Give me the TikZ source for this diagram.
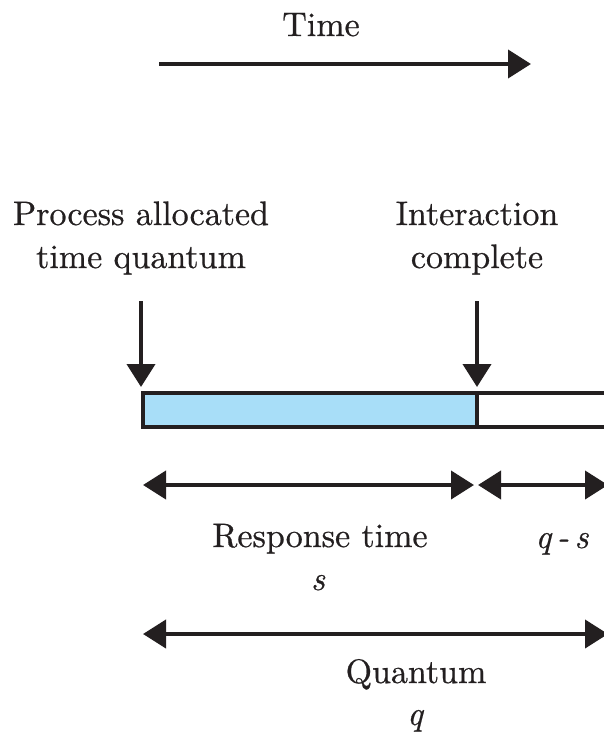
\documentclass[tikz,border=0pt]{standalone}
\usepackage{fontspec}
\setmainfont{lmroman10}[Extension=.otf, UprightFont=*-regular, ItalicFont=*-italic, BoldFont=*-bold, FakeBold=0.6]
\usetikzlibrary{arrows.meta}
\definecolor{boxblue}{HTML}{A8DEF8}
\definecolor{ink}{HTML}{231F20}
\tikzset{
  lbl/.style={anchor=base, inner sep=0pt, font=\fontsize{34}{40}\selectfont, text=ink},
  ilbl/.style={lbl, font=\fontsize{34}{40}\selectfont\itshape},
  arr/.style={line width=4pt, draw=ink, -{Triangle[length=23pt,width=28pt]}},
  darr/.style={line width=4pt, draw=ink, {Triangle[length=23pt,width=28pt]}-{Triangle[length=23pt,width=28pt]}},
  barbox/.style={line width=4pt, draw=ink}
}
\begin{document}
\begin{tikzpicture}[x=1pt,y=-1pt]
\clip (0,0) rectangle (604,736);
\fill[white] (0,0) rectangle (604,736);

% Time
\node[lbl] (time) at (321,36) {Time};
\coordinate (t0) at (159,64);
\coordinate (t1) at (531,64);
\draw[arr] (t0) -- (t1);

% top labels
\node[lbl] (pa1) at (141,225) {Process allocated};
\node[lbl] (pa2) at (141,268) {time quantum};
\node[lbl] (ic1) at (477,225) {Interaction};
\node[lbl] (ic2) at (477,268) {complete};

% bar
\coordinate (bl) at (143,393);
\coordinate (bm) at (477,427);
\coordinate (bmt) at (477,393);
\coordinate (br) at (625,427);
\filldraw[barbox, fill=boxblue] (bl) rectangle (bm);
\draw[barbox] (bmt) rectangle (br);

% vertical arrows
\coordinate (v1s) at (141,301);
\coordinate (v1e) at (141,387);
\coordinate (v2s) at (477,301);
\coordinate (v2e) at (477,387);
\draw[arr] (v1s) -- (v1e);
\draw[arr] (v2s) -- (v2e);

% response time arrows
\coordinate (r0) at (143,485);
\coordinate (r1) at (474,485);
\coordinate (r2) at (478,485);
\coordinate (r3) at (608,485);
\draw[darr] (r0) -- (r1);
\draw[darr] (r2) -- (r3);
\node[lbl] (resp) at (320,547) {Response time};
\node[ilbl] (s) at (318,590) {s};
\node[ilbl] (qs) at (562,548) {q\,-\,s};

% quantum arrow
\coordinate (q0) at (143,634);
\coordinate (q1) at (608,634);
\draw[darr] (q0) -- (q1);
\node[lbl] (quant) at (416,683) {Quantum};
\node[ilbl] (q) at (415,725) {q};
\end{tikzpicture}
\end{document}
